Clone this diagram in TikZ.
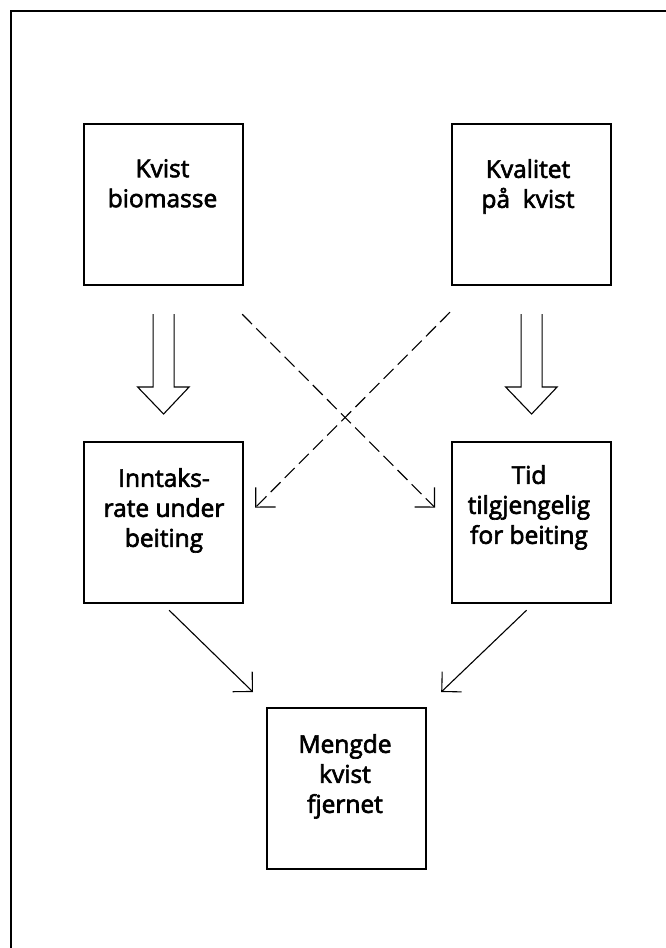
\documentclass[tikz,border=0pt]{standalone}
\usepackage{fontspec}
\setmainfont{Open Sans}[BoldFont={Open Sans}, BoldFeatures={FakeBold=2.6}]
\usetikzlibrary{arrows.meta,calc}
\tikzset{
  box/.style={draw,line width=2.2pt,minimum width=159pt,minimum height=161pt,inner sep=0pt,anchor=north west},
  boxtext/.style={align=center,inner sep=0pt,anchor=north,font=\fontsize{24.5}{30}\selectfont\bfseries,execute at begin node={\rule{0pt}{18pt}}},
  link/.style={line width=1.1pt,-{Straight Barb[length=14pt,width=28pt,line width=1.1pt]}},
  dlink/.style={link,dash pattern=on 14pt off 6pt},
  fat/.style={line width=1.1pt,line join=miter}
}
\newcommand\fatarrow[2]{%
  \draw[fat] ($(#1.south)+(-10.5,28)$) -- ($(#2.north)+(-10.5,-54)$) -- ++(-15.5,0)
    -- ($(#2.north)+(0,-27)$) -- ($(#2.north)+(25.5,-54)$) -- ++(-15,0)
    -- ($(#1.south)+(10.5,28)$);}
\begin{document}
\begin{tikzpicture}[x=1pt,y=-1pt]
\useasboundingbox (0,0) rectangle (666,948);
\clip (0,0) rectangle (666,948);
\fill[white] (0,0) rectangle (666,948);
\draw[line width=2pt] (11,11) rectangle (700,990);
% boxes
\node[box] (b1) at (83,123) {};
\node[box] (b2) at (451,123) {};
\node[box] (b3) at (83,441) {};
\node[box] (b4) at (451,441) {};
\node[box] (b5) at (266,707) {};
% texts
\node[boxtext] (t1) at (162.5,159) {Kvist\\biomasse};
\node[boxtext] (t2) at (528,159) {Kvalitet\\på~ kvist};
\node[boxtext] (t3) at (164,468) {Inntaks-\\rate under\\beiting};
\node[boxtext] (t4) at (529,465) {Tid\\tilgjengelig\\for beiting};
\node[boxtext] (t5) at (345,734) {Mengde\\kvist\\fjernet};
% fat arrows
\fatarrow{b1}{b3}
\fatarrow{b2}{b4}
% dashed crossing arrows
\coordinate (d1s) at ($(b1.south east)+(-2,28)$);
\coordinate (d1e) at ($(b4.west)+(-16,-15)$);
\coordinate (d2s) at ($(b2.south west)+(-1,26)$);
\coordinate (d2e) at ($(b3.east)+(11,-15)$);
\draw[dlink] (d1s) -- (d1e);
\draw[dlink] (d2s) -- (d2e);
% solid arrows
\coordinate (s1s) at ($(b3.south)+(5.5,6)$);
\coordinate (s1e) at ($(b5.north west)+(-13,-15)$);
\coordinate (s2s) at ($(b4.south)+(-5,6)$);
\coordinate (s2e) at ($(b5.north east)+(14,-15)$);
\draw[link] (s1s) -- (s1e);
\draw[link] (s2s) -- (s2e);
\end{tikzpicture}
\end{document}
